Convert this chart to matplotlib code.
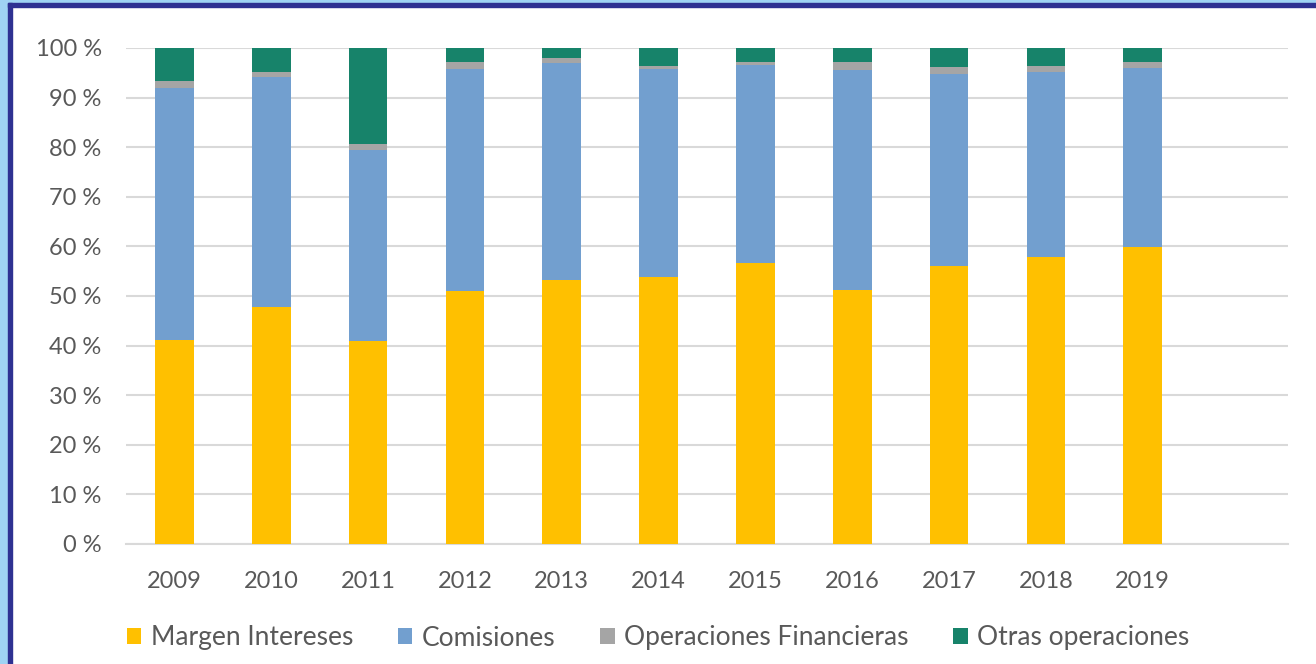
import matplotlib.pyplot as plt
from matplotlib.patches import Rectangle
import numpy as np

# valores (% sobre el total)
years = ['2009', '2010', '2011', '2012', '2013', '2014', '2015', '2016', '2017', '2018', '2019']
margen = [41.1, 47.8, 40.9, 51.0, 53.2, 53.8, 56.7, 51.3, 56.1, 57.9, 59.9]
comisiones = [50.9, 46.3, 38.6, 44.8, 43.8, 42.0, 39.9, 44.2, 38.7, 37.3, 36.1]
op_financieras = [1.3, 1.1, 1.2, 1.4, 0.9, 0.5, 0.6, 1.6, 1.4, 1.2, 1.2]
otras = [6.7, 4.8, 19.3, 2.8, 2.1, 3.7, 2.8, 2.9, 3.8, 3.6, 2.8]

labels = ['Margen Intereses', 'Comisiones', 'Operaciones Financieras', 'Otras operaciones']
colors = ['#FFC000', '#729FCF', '#A5A5A5', '#17836A']

plt.rcParams['font.family'] = ['Lato', 'DejaVu Sans']
txt = '#595959'

fig = plt.figure(figsize=(13.16, 6.64), dpi=100)
ax = fig.add_axes([126/1316, 1-544/664, (1288-126)/1316, (544-48)/664])

x = np.arange(len(years))
bottom = np.zeros(len(years))
for vals, lab, col in zip([margen, comisiones, op_financieras, otras], labels, colors):
    ax.bar(x, vals, 0.4, bottom=bottom, color=col, label=lab, zorder=3)
    bottom = bottom + np.array(vals)

ax.set_xlim(-0.5, 11.5)
ax.set_ylim(0, 100)
ax.set_yticks(range(0, 101, 10))
ax.set_yticklabels([str(v) + ' %' for v in range(0, 101, 10)])
ax.set_xticks(x)
ax.set_xticklabels(years)
ax.yaxis.grid(True, color='#d9d9d9', lw=1.5, zorder=0)
ax.tick_params(length=0, labelsize=17, labelcolor=txt)
ax.tick_params(axis='y', pad=17.5)
ax.tick_params(axis='x', pad=19.5)
for s in ['top', 'right', 'left']:
    ax.spines[s].set_visible(False)
ax.spines['bottom'].set_color('#d9d9d9')
ax.spines['bottom'].set_linewidth(1.5)

leg = fig.legend(loc='center', bbox_to_anchor=(0.5, 1-638/664), ncol=4, frameon=False,
                 fontsize=19, handlelength=0.55, handleheight=0.55, handletextpad=0.35,
                 columnspacing=1.7)
for t in leg.get_texts():
    t.set_color(txt)

# marco azul del recuadro
W, H = 1316, 664
fig.patches.append(Rectangle((0, 0), 8/W, 1, transform=fig.transFigure, color='#9fd3f3', zorder=10))
fig.patches.append(Rectangle((0, 1-3/H), 1, 3/H, transform=fig.transFigure, color='#9fd3f3', zorder=10))
fig.patches.append(Rectangle((8/W, 0), 4/W, 1-3/H, transform=fig.transFigure, color='#2e3192', zorder=11))
fig.patches.append(Rectangle((8/W, 1-7/H), 1, 4/H, transform=fig.transFigure, color='#2e3192', zorder=11))

fig.savefig('out.png', dpi=100)
